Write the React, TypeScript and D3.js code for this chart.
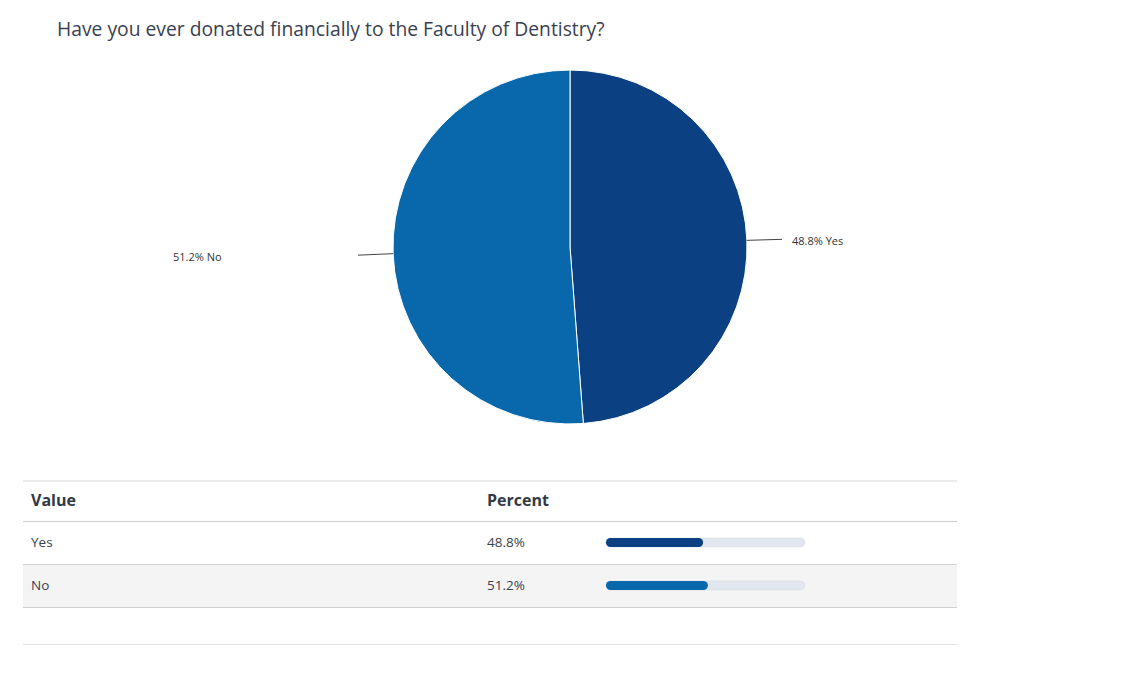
import React from "react";
import * as d3 from "d3";

const categories = ["Yes", "No"];
const percents = [48.8, 51.2];
const colors = ["#0b4182", "#0868ab"];
const title = "Have you ever donated financially to the Faculty of Dentistry?";

export default function App() {
  const W = 1133, H = 675;
  const cx = 570, cy = 247, r = 177;
  const data = categories.map((c, i) => ({ c, v: percents[i], col: colors[i] }));
  const pie = d3.pie<any>().value((d) => d.v).sort(null);
  const arcs = pie(data);
  const arc = d3.arc<any>().innerRadius(0).outerRadius(r);
  const font = "'Open Sans', 'Noto Sans', sans-serif";
  const barX = d3.scaleLinear().domain([0, 100]).range([0, 199]);
  const rows = [522, 565];
  const labelX = [792, 173];
  const lineEndX = [782, 358];
  return (
    <svg width={W} height={H} style={{ position: "absolute", left: 0, top: 0 }} fontFamily={font}>
      <rect width={W} height={H} fill="#fff" />
      <text x={57} y={36} fontSize={19.3} fill="#3a4150">{title}</text>
      <g transform={`translate(${cx},${cy})`}>
        {arcs.map((a, i) => (
          <path key={i} d={arc(a) as string} fill={a.data.col} stroke="#fff" strokeWidth={1} />
        ))}
        {arcs.map((a, i) => {
          const mid = (a.startAngle + a.endAngle) / 2;
          const px = Math.sin(mid) * r, py = -Math.cos(mid) * r;
          const ex = lineEndX[i] - cx;
          const ey = py + (i === 0 ? -1 : 1.5);
          return (
            <g key={"l" + i}>
              <line x1={px} y1={py} x2={ex} y2={ey} stroke="#444" strokeWidth={1} />
              <text x={labelX[i] - cx} y={ey + 6} fontSize={11} fill="#333">
                {`${a.data.v.toFixed(1)}% ${a.data.c}`}
              </text>
            </g>
          );
        })}
      </g>
      <g>
        <line x1={23} x2={957} y1={481} y2={481} stroke="#d8d8d8" />
        <text x={31} y={506} fontSize={16} fontWeight={700} fill="#333a45">Value</text>
        <text x={487} y={506} fontSize={16} fontWeight={700} fill="#333a45">Percent</text>
        <line x1={23} x2={957} y1={521.5} y2={521.5} stroke="#cccccc" />
        {data.map((d, i) => (
          <g key={d.c}>
            {i === 1 && <rect x={23} y={rows[i]} width={934} height={42} fill="#f4f4f4" />}
            <text x={31} y={rows[i] + 25} fontSize={13.5} fill="#3a4150">{d.c}</text>
            <text x={487} y={rows[i] + 25} fontSize={13.5} fill="#3a4150">{`${d.v.toFixed(1)}%`}</text>
            <rect x={606} y={rows[i] + 16} width={barX(100)} height={9} rx={4.5} fill="#e2e6ee" stroke="#d5dae3" strokeWidth={0.5} />
            <rect x={606} y={rows[i] + 16} width={barX(d.v)} height={9} rx={4.5} fill={d.col} />
            <line x1={23} x2={957} y1={rows[i] + 42.5} y2={rows[i] + 42.5} stroke="#d0d0d0" />
          </g>
        ))}
        <line x1={23} x2={957} y1={644.5} y2={644.5} stroke="#e0e0e0" />
      </g>
    </svg>
  );
}
